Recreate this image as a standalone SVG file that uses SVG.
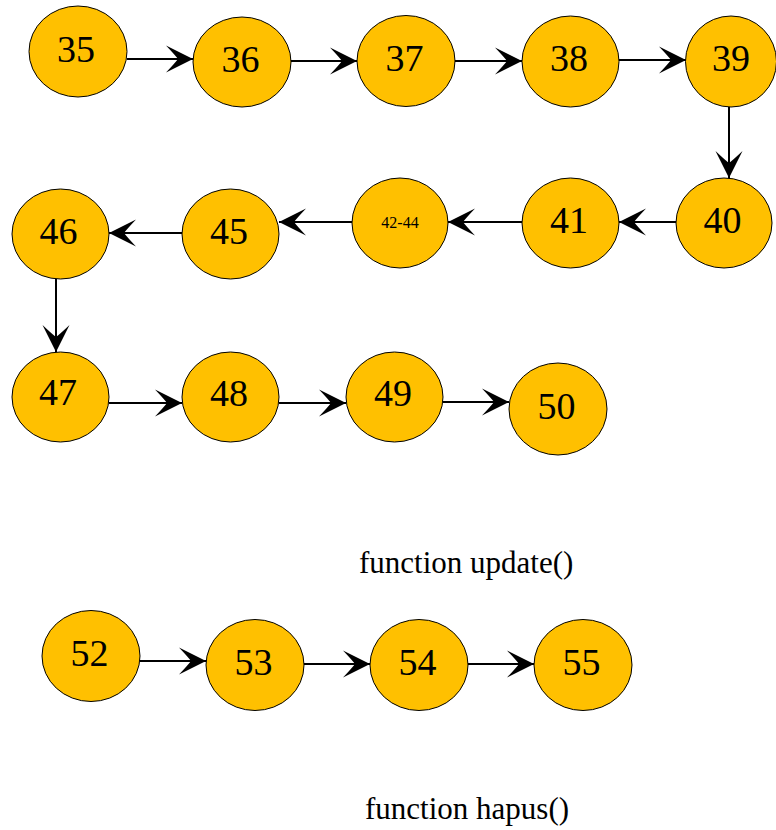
<svg xmlns="http://www.w3.org/2000/svg" width="776" height="830" viewBox="0 0 776 830">
<style>
ellipse.e{fill:#FFC000;stroke:#000;stroke-width:1}
text.t{font-family:'Liberation Serif','Times New Roman',serif;font-size:38px;fill:#000;text-anchor:middle}
text.s{font-family:'Liberation Serif','Times New Roman',serif;font-size:16px;fill:#000;text-anchor:middle}
line.a{stroke:#000;stroke-width:2;fill:none}
text.lbl{font-family:'Liberation Serif','Times New Roman',serif;font-size:31px;fill:#000}
</style>
<defs>
<marker id="ah" viewBox="-28 -14 29 28" refX="0" refY="0" markerWidth="29" markerHeight="28" markerUnits="userSpaceOnUse" orient="auto">
<path d="M0,0 L-27,-13.5 Q-18,-4 -15,0 Q-18,4 -27,13.5 Z" fill="#000"/>
</marker>
</defs>
<rect width="776" height="830" fill="#fff"/>
<g id="connectors">
<line class="a" marker-end="url(#ah)" x1="127" y1="59" x2="193" y2="59"/>
<line class="a" marker-end="url(#ah)" x1="291" y1="61" x2="357" y2="61"/>
<line class="a" marker-end="url(#ah)" x1="455" y1="61" x2="522" y2="61"/>
<line class="a" marker-end="url(#ah)" x1="619" y1="60" x2="686" y2="60"/>
<line class="a" marker-end="url(#ah)" x1="729" y1="107" x2="729" y2="178"/>
<line class="a" marker-end="url(#ah)" x1="676" y1="222" x2="619" y2="222"/>
<line class="a" marker-end="url(#ah)" x1="522" y1="222" x2="448" y2="222"/>
<line class="a" marker-end="url(#ah)" x1="352" y1="222" x2="279" y2="222"/>
<line class="a" marker-end="url(#ah)" x1="182" y1="233" x2="109" y2="233"/>
<line class="a" marker-end="url(#ah)" x1="56" y1="279" x2="56" y2="352"/>
<line class="a" marker-end="url(#ah)" x1="109" y1="403" x2="182" y2="403"/>
<line class="a" marker-end="url(#ah)" x1="279" y1="403" x2="346" y2="403"/>
<line class="a" marker-end="url(#ah)" x1="443" y1="402" x2="509" y2="402"/>
<line class="a" marker-end="url(#ah)" x1="140" y1="661" x2="206" y2="661"/>
<line class="a" marker-end="url(#ah)" x1="304" y1="664" x2="370" y2="664"/>
<line class="a" marker-end="url(#ah)" x1="468" y1="664" x2="534" y2="664"/>
</g>
<g id="n35"><ellipse class="e" cx="78" cy="51.5" rx="49" ry="45.5"/><text class="t" x="76" y="61.5">35</text></g>
<g id="n36"><ellipse class="e" cx="242" cy="62" rx="49" ry="45"/><text class="t" x="240.5" y="71.5">36</text></g>
<g id="n37"><ellipse class="e" cx="406" cy="61" rx="49" ry="45.5"/><text class="t" x="404.5" y="71">37</text></g>
<g id="n38"><ellipse class="e" cx="570.5" cy="61.5" rx="48.5" ry="45.5"/><text class="t" x="569" y="71">38</text></g>
<g id="n39"><ellipse class="e" cx="731" cy="61.5" rx="45.5" ry="45.5"/><text class="t" x="731" y="71">39</text></g>
<g id="n40"><ellipse class="e" cx="724" cy="223" rx="48" ry="45"/><text class="t" x="722.5" y="233">40</text></g>
<g id="n41"><ellipse class="e" cx="570.5" cy="223" rx="48.5" ry="45"/><text class="t" x="569" y="233">41</text></g>
<g id="n42"><ellipse class="e" cx="400" cy="223" rx="48" ry="45"/><text class="s" x="400" y="228">42-44</text></g>
<g id="n45"><ellipse class="e" cx="230.5" cy="234" rx="48.5" ry="45"/><text class="t" x="229" y="244">45</text></g>
<g id="n46"><ellipse class="e" cx="60.5" cy="234" rx="48.5" ry="45"/><text class="t" x="58.5" y="244">46</text></g>
<g id="n47"><ellipse class="e" cx="60.5" cy="397" rx="48.5" ry="45"/><text class="t" x="58" y="405">47</text></g>
<g id="n48"><ellipse class="e" cx="230.5" cy="397" rx="48.5" ry="45"/><text class="t" x="229" y="406">48</text></g>
<g id="n49"><ellipse class="e" cx="394.5" cy="397" rx="48.5" ry="45"/><text class="t" x="393" y="406">49</text></g>
<g id="n50"><ellipse class="e" cx="558" cy="409" rx="49" ry="46"/><text class="t" x="556.5" y="419">50</text></g>
<g id="n52"><ellipse class="e" cx="91" cy="656" rx="49" ry="45.5"/><text class="t" x="89.5" y="666">52</text></g>
<g id="n53"><ellipse class="e" cx="255" cy="665" rx="49" ry="45.5"/><text class="t" x="253.5" y="675">53</text></g>
<g id="n54"><ellipse class="e" cx="419" cy="665" rx="49" ry="45.5"/><text class="t" x="417.5" y="675">54</text></g>
<g id="n55"><ellipse class="e" cx="583" cy="665" rx="49" ry="45.5"/><text class="t" x="581.5" y="675">55</text></g>
<text class="lbl" x="359" y="573">function update()</text>
<text class="lbl" x="365" y="819">function hapus()</text>
</svg>
